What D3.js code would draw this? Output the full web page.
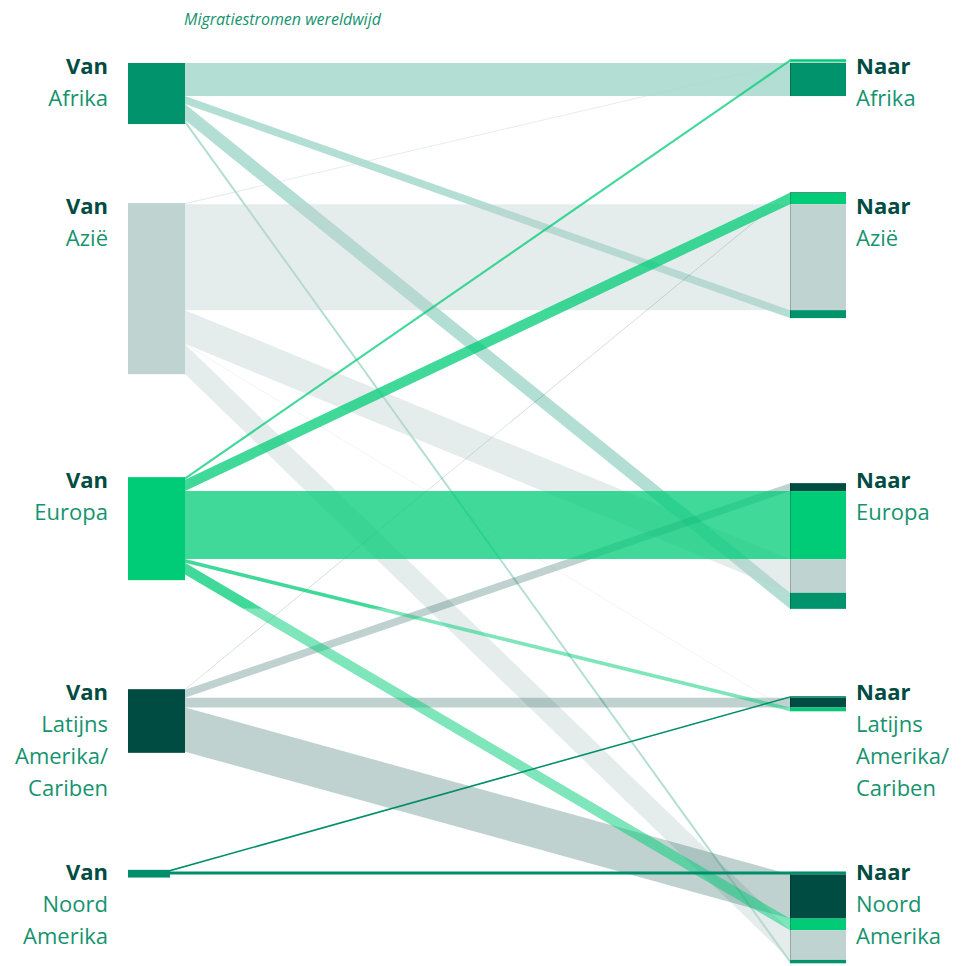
<!DOCTYPE html>
<html>
<head>
<meta charset="utf-8">
<script src="https://cdn.jsdelivr.net/npm/d3@7"></script>
<style>
  body { margin: 0; background: #fff; }
  svg { display: block; font-family: "Open Sans", sans-serif; }
</style>
</head>
<body>
<div id="chart"></div>
<script>
// regions, top to bottom (same order left and right)
const regions = ["Afrika", "Azië", "Europa", "Latijns Amerika/Cariben", "Noord Amerika"];
const labelLines = [["Afrika"], ["Azië"], ["Europa"], ["Latijns", "Amerika/", "Cariben"], ["Noord", "Amerika"]];

// total emigrants per region of origin (miljoen), incl. flows not shown
const emigrants = [37.7, 105.6, 63.6, 39.3, 4.75];

// flows per origin, to: Afrika, Azië, Europa, Latijns Amerika, Noord Amerika (miljoen)
const fromAfrika   = [20.4, 4.9, 9.9, 0, 2.1];
const fromAzie     = [0.7, 65.4, 20.8, 0.3, 18.3];
const fromEuropa   = [1.6, 7.0, 42.0, 2.3, 7.2];
const fromLatAm    = [0, 0.4, 4.9, 6.0, 27.3];
const fromNoordAm  = [0, 0, 0, 1.0, 1.8];
const flows = [fromAfrika, fromAzie, fromEuropa, fromLatAm, fromNoordAm];

const title = "Migratiestromen wereldwijd";

// styling
const colors = ["#00936c", "#bfd3d0", "#00cc78", "#004c42", "#008d6a"];
const linkOpacity = [0.3, 0.4, 0.75, 0.25, 1];
const darkText = "#004c42";
const nameText = "#15936f";

const width = 962, height = 966;
const leftX = 128, leftW = 57;
const rightX = 790, rightW = 56;
const topY = 63;
const gaps = [79, 103, 109, 117];

const y = d3.scaleLinear().domain([0, 100]).range([0, 162]);

// left nodes
const leftNodes = [];
let cursor = topY;
regions.forEach((r, i) => {
    const h = y(emigrants[i]);
    leftNodes.push({ i, y0: cursor, y1: cursor + h });
    cursor += h + (gaps[i] || 0);
});

// links, stacked from top of each origin node in destination order
const links = [];
leftNodes.forEach(n => {
    let sy = n.y0;
    flows[n.i].forEach((v, t) => {
        const h = y(v);
        links.push({ s: n.i, t, v, sy0: sy, sy1: sy + h });
        sy += h;
    });
});

// right nodes: segments in reverse origin order, placed so the self-flow is horizontal
const rightNodes = regions.map((r, t) => {
    const self = links.find(l => l.s === t && l.t === t);
    let above = 0;
    for (let s = regions.length - 1; s > t; s--) above += y(flows[s][t]);
    const top = self.sy0 - above;
    let ty = top;
    const segs = [];
    for (let s = regions.length - 1; s >= 0; s--) {
        const l = links.find(d => d.s === s && d.t === t);
        const h = y(l.v);
        l.ty0 = ty; l.ty1 = ty + h;
        if (l.v > 0) segs.push({ s, y0: ty, y1: ty + h });
        ty += h;
    }
    return { t, y0: top, y1: ty, segs };
});

const svg = d3.select("#chart").append("svg")
    .attr("width", width)
    .attr("height", height);

// Europa flows look lighter below the bottom of "Naar Europa"
const split = rightNodes[2].y1;
const defs = svg.append("defs");
defs.append("clipPath").attr("id", "clip-up")
    .append("rect").attr("x", 0).attr("y", 0).attr("width", width).attr("height", split);
defs.append("clipPath").attr("id", "clip-down")
    .append("rect").attr("x", 0).attr("y", split).attr("width", width).attr("height", height - split);

const area = d3.area()
    .x(d => d.x)
    .y0(d => d.y0)
    .y1(d => d.y1);

const bandPoints = l => {
    const x0 = l.s === 4 ? leftX + 42 : leftX + leftW;
    return [{ x: x0, y0: l.sy0, y1: l.sy1 }, { x: rightX, y0: l.ty0, y1: l.ty1 }];
};

const shown = links.filter(l => l.v > 0);
const linkG = svg.append("g");

linkG.selectAll(".link")
    .data(shown.filter(l => l.s !== 2))
    .join("path")
    .attr("class", "link")
    .attr("d", d => area(bandPoints(d)))
    .attr("fill", d => colors[d.s])
    .attr("fill-opacity", d => linkOpacity[d.s]);

const europa = shown.filter(l => l.s === 2);
linkG.append("g").attr("clip-path", "url(#clip-up)")
    .selectAll("path").data(europa).join("path")
    .attr("d", d => area(bandPoints(d)))
    .attr("fill", colors[2])
    .attr("fill-opacity", 0.75);
linkG.append("g").attr("clip-path", "url(#clip-down)")
    .selectAll("path").data(europa).join("path")
    .attr("d", d => area(bandPoints(d)))
    .attr("fill", colors[2])
    .attr("fill-opacity", 0.5);

// north america flows on top
linkG.selectAll(".link").filter(d => d.s === 4).raise();

// left nodes
svg.append("g").selectAll("rect")
    .data(leftNodes)
    .join("rect")
    .attr("x", leftX)
    .attr("y", d => d.y0)
    .attr("width", d => (d.y1 - d.y0) < 10 ? 42 : leftW)
    .attr("height", d => d.y1 - d.y0)
    .attr("fill", d => colors[d.i]);

// right nodes
const rightG = svg.append("g");
rightNodes.forEach(n => {
    rightG.selectAll(null)
        .data(n.segs)
        .join("rect")
        .attr("x", rightX)
        .attr("y", d => d.y0)
        .attr("width", rightW)
        .attr("height", d => d.y1 - d.y0)
        .attr("fill", d => colors[d.s]);
    rightG.selectAll(null)
        .data(n.segs.filter(d => d.y1 - d.y0 > 4))
        .join("line")
        .attr("x1", rightX + 0.5).attr("x2", rightX + 0.5)
        .attr("y1", d => d.y0).attr("y2", d => d.y1)
        .attr("stroke", d => d3.color(colors[d.s]).darker(1.2))
        .attr("stroke-opacity", 0.6);
});

// labels
const labelG = svg.append("g").attr("font-size", 22);
const addLabel = (x, anchor, word, i) => {
    const base = leftNodes[i].y0 + 10.5;
    const t = labelG.append("text")
        .attr("x", x)
        .attr("y", base)
        .attr("text-anchor", anchor);
    t.append("tspan")
        .attr("x", x)
        .attr("font-weight", 700)
        .attr("fill", darkText)
        .text(word);
    labelLines[i].forEach((line, k) => {
        t.append("tspan")
            .attr("x", x)
            .attr("y", base + 32 * (k + 1))
            .attr("fill", nameText)
            .text(line);
    });
};
regions.forEach((r, i) => {
    addLabel(108, "end", "Van", i);
    addLabel(856, "start", "Naar", i);
});

svg.append("text")
    .attr("x", 184)
    .attr("y", 25)
    .attr("font-size", 16)
    .attr("font-style", "italic")
    .attr("fill", nameText)
    .text(title);
</script>
</body>
</html>
